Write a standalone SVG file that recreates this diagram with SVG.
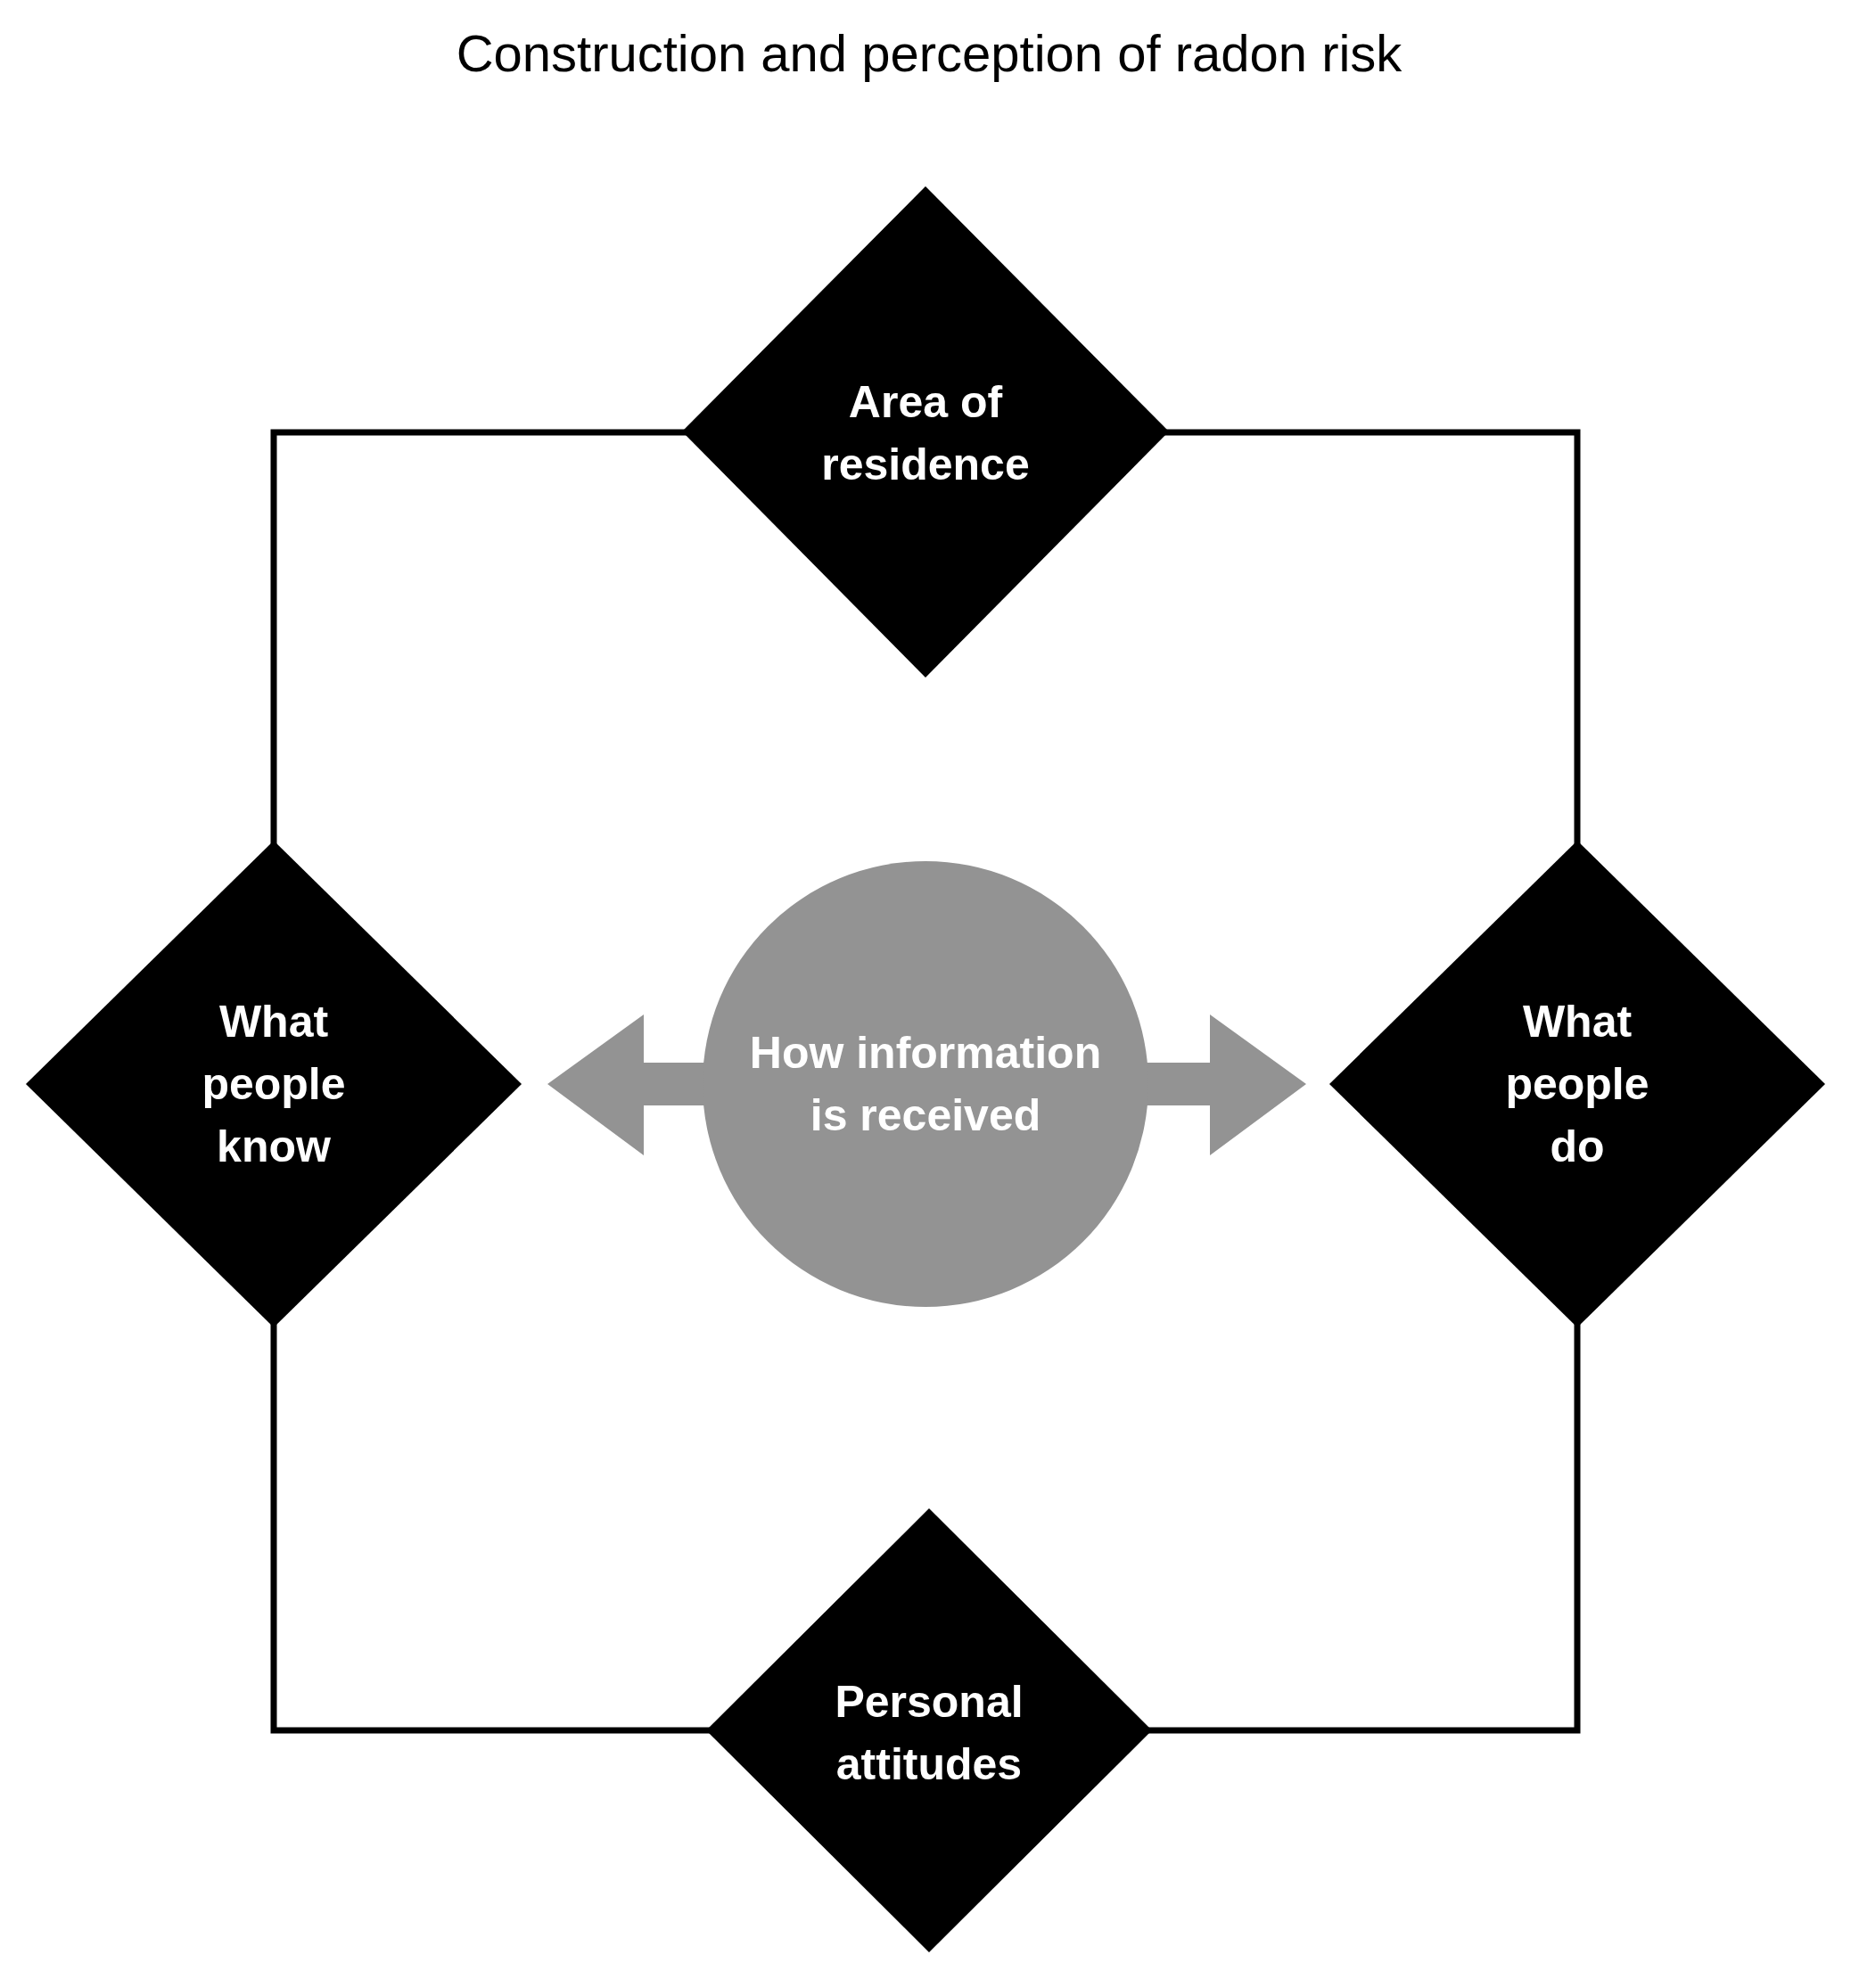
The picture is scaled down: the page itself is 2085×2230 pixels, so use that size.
<svg xmlns="http://www.w3.org/2000/svg" width="2085" height="2230" viewBox="0 0 2085 2230">
<style>
.t{font-family:"Liberation Sans",Arial,sans-serif;font-weight:bold;font-size:50px;fill:#fff;text-anchor:middle}
.d{fill:#000}
</style>
<rect width="2085" height="2230" fill="#fff"/>
<text x="1042" y="80" style="font-family:'Liberation Sans',Arial,sans-serif;font-size:58px;text-anchor:middle;fill:#000">Construction and perception of radon risk</text>
<g id="connectors">
<rect x="307" y="485" width="1462" height="1456" fill="none" stroke="#000" stroke-width="7"/>
<polygon points="614,1216 722,1138 722,1192 800,1192 800,1240 722,1240 722,1296" fill="#939393"/>
<polygon points="1465,1216 1357,1138 1357,1192 1280,1192 1280,1240 1357,1240 1357,1296" fill="#939393"/>
</g>
<g id="center">
<circle cx="1038" cy="1216" r="250" fill="#939393"/>
<text class="t" x="1038" y="1198">How information</text>
<text class="t" x="1038" y="1268">is received</text>
</g>
<g id="top">
<polygon class="d" points="1038,209 1311,484 1038,760 765,484"/>
<text class="t" x="1038" y="468">Area of</text>
<text class="t" x="1038" y="538">residence</text>
</g>
<g id="left">
<polygon class="d" points="307,943 585,1216 307,1489 29,1216"/>
<text class="t" x="307" y="1163">What</text>
<text class="t" x="307" y="1233">people</text>
<text class="t" x="307" y="1303">know</text>
</g>
<g id="right">
<polygon class="d" points="1769,943 2047,1216 1769,1489 1491,1216"/>
<text class="t" x="1769" y="1163">What</text>
<text class="t" x="1769" y="1233">people</text>
<text class="t" x="1769" y="1303">do</text>
</g>
<g id="bottom">
<polygon class="d" points="1042,1692 1292,1941 1042,2190 792,1941"/>
<text class="t" x="1042" y="1926">Personal</text>
<text class="t" x="1042" y="1996">attitudes</text>
</g>
</svg>
